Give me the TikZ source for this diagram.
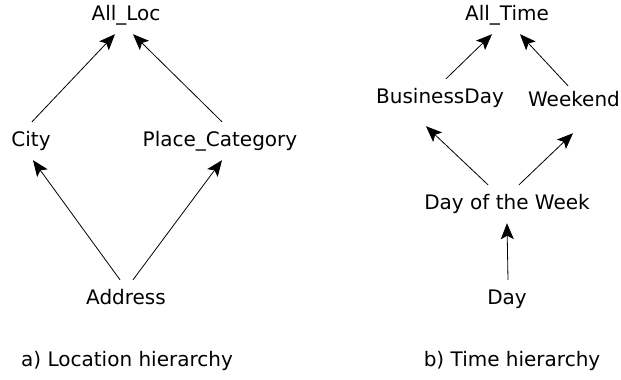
\documentclass[tikz,border=0pt]{standalone}
\usepackage{fontspec}
\setmainfont{DejaVu Sans}
\usepackage{tikz}
\usetikzlibrary{arrows.meta}

\begin{document}
\begin{tikzpicture}[x=1pt,y=-1pt,
  every node/.style={font=\fontsize{20}{24}\selectfont, inner xsep=2pt, inner ysep=9.5pt, text height=15pt, text depth=4pt},
  up/.style={-{Stealth[length=16pt,width=13pt,inset=3.5pt]}, line width=0.8pt}]
\useasboundingbox (0,0) rectangle (621,380);
% location hierarchy
\node (L0) at (126,15) {All\_Loc};
\node (L1) at (31,141) {City};
\node (L2) at (220,141) {Place\_Category};
\node (L3) at (126,299) {Address};
\draw[up] ([xshift=1pt]L1.north) -- ([xshift=-11pt]L0.south);
\draw[up] ([xshift=2pt]L2.north) -- ([xshift=7pt]L0.south);
\draw[up] ([xshift=-6pt]L3.north) -- ([xshift=2pt]L1.south);
\draw[up] ([xshift=7pt]L3.north) -- ([xshift=2pt]L2.south);
% time hierarchy
\node (T0) at (507,15) {All\_Time};
\node (T1) at (440,98) {BusinessDay};
\node (T2) at (574,101) {Weekend};
\node (T3) at (507,204) {Day of the Week};
\node (T4) at (507,299) {Day};
\draw[up] ([xshift=6pt]T1.north) -- ([xshift=-15pt]T0.south);
\draw[up] ([xshift=-6pt,yshift=-4pt]T2.north) -- ([xshift=13pt]T0.south);
\draw[up] ([xshift=-19pt]T3.north) -- ([xshift=-14pt,yshift=-9pt]T1.south);
\draw[up] ([xshift=12pt]T3.north) -- ([xshift=-1pt,yshift=-13pt]T2.south);
\draw[up] ([xshift=1pt]T4.north) -- (T3.south);
% captions
\node (A) at (127,361) {a) Location hierarchy};
\node (B) at (512,361) {b) Time hierarchy};
\end{tikzpicture}
\end{document}
